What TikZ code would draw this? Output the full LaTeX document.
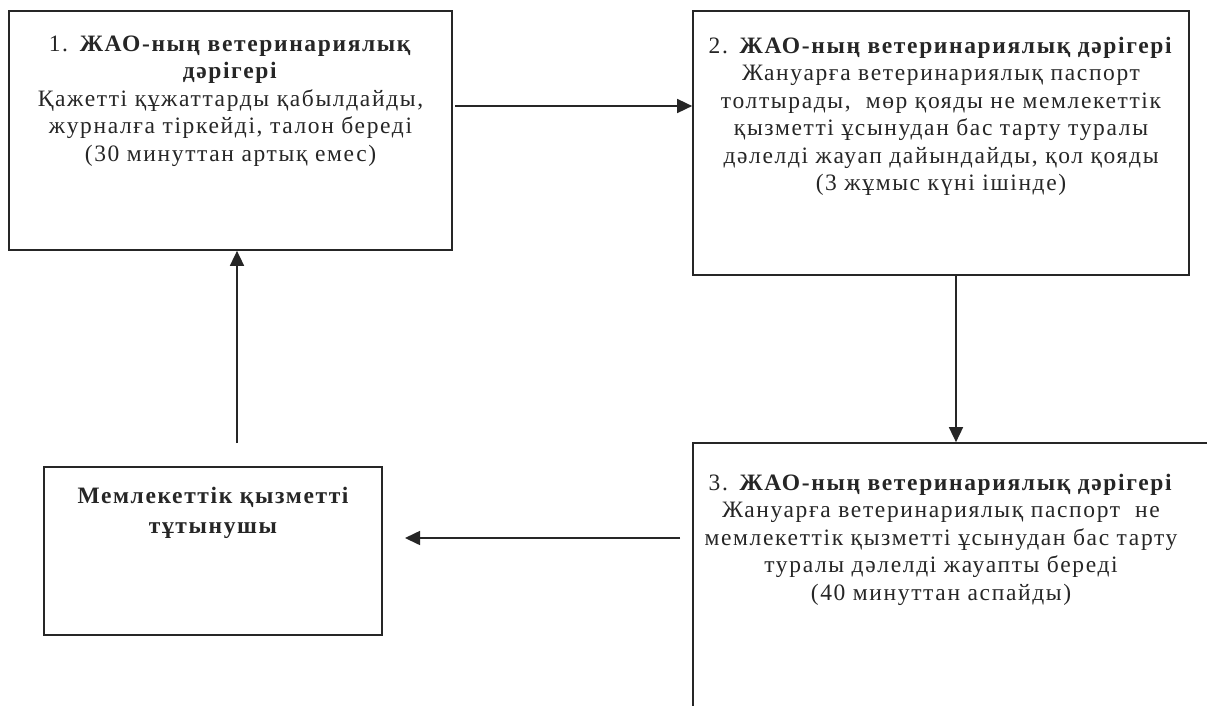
\documentclass[tikz,border=0pt]{standalone}
\usepackage{fontspec}
\setmainfont{Liberation Serif}[LetterSpace=7]
\usetikzlibrary{arrows.meta}
\tikzset{
  box/.style={draw=black!85, line width=1.7pt, rectangle, inner sep=0pt},
  txt/.style={anchor=north, align=center, inner sep=0pt, font=\fontsize{23.5}{27.5}\selectfont, text=black!85},
  arr/.style={line width=1.6pt, draw=black!85, -{Triangle[length=15pt,width=14pt]}}
}
\begin{document}
\begin{tikzpicture}[x=1pt,y=-1pt]
\useasboundingbox (0,0) rectangle (1207,705);
\fill[white] (0,0) rectangle (1207,705);
\clip (0,0) rectangle (1207,705);
% boxes
\node[box, minimum width=443pt, minimum height=239pt] (b1) at (230.5,130.5) {};
\node[box, minimum width=496pt, minimum height=264pt] (b2) at (941,143) {};
\node[box, minimum width=524pt, minimum height=280pt] (b3) at (955,583) {};
\node[box, minimum width=338pt, minimum height=168pt] (b4) at (213,551) {};
% texts
\node[txt] (t1) at (230.5,35.5) {1. \textbf{ЖАО-ның ветеринариялық}\\\textbf{дәрігері}\\Қажетті құжаттарды қабылдайды,\\журналға тіркейді, талон береді\\(30 минуттан артық емес)};
\node[txt] (t2) at (941,36.5) {2. \textbf{ЖАО-ның ветеринариялық дәрігері}\\Жануарға ветеринариялық паспорт\\толтырады,~ мөр қояды не мемлекеттік\\қызметті ұсынудан бас тарту туралы\\дәлелді жауап дайындайды, қол қояды\\(3 жұмыс күні ішінде)};
\node[txt] (t3) at (941,473.5) {3. \textbf{ЖАО-ның ветеринариялық дәрігері}\\Жануарға ветеринариялық паспорт~ не\\мемлекеттік қызметті ұсынудан бас тарту\\туралы дәлелді жауапты береді\\(40 минуттан аспайды)};
\node[txt, font=\fontsize{23.5}{30}\selectfont\bfseries] (t4) at (213,486.5) {Мемлекеттік қызметті\\тұтынушы};
% connector end points
\coordinate (a1s) at (455,106);
\coordinate (a2s) at (956,275);
\coordinate (a3s) at (680,538);
\coordinate (a3e) at (405,538);
\coordinate (a4s) at (237,443);
% connectors
\draw[arr] (a1s) -- (a1s -| b2.west);
\draw[arr] (a2s) -- (a2s |- b3.north);
\draw[arr] (a3s) -- (a3e);
\draw[arr] (a4s) -- (a4s |- b1.south);
\end{tikzpicture}
\end{document}
